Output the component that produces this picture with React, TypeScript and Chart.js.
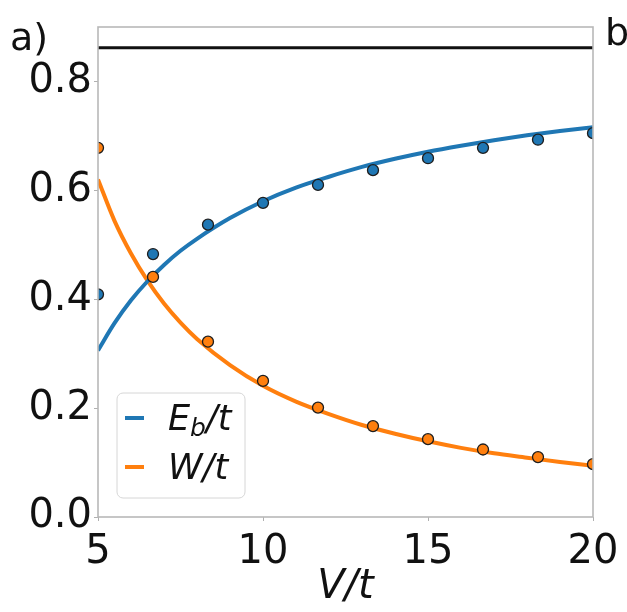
import React, { useEffect, useRef } from "react";
import { Chart, registerables } from "chart.js";

Chart.register(...registerables);

// ---- data ----
const POINT_X = [5, 6.667, 8.333, 10, 11.667, 13.333, 15, 16.667, 18.333, 20];
const EB_POINTS = [0.409, 0.483, 0.537, 0.577, 0.61, 0.637, 0.659, 0.678, 0.693, 0.705];
const W_POINTS = [0.678, 0.441, 0.322, 0.25, 0.201, 0.167, 0.143, 0.124, 0.11, 0.097];

const CURVE_X = [5, 5.5, 6, 6.5, 7, 7.5, 8, 9, 10, 11, 12, 13, 14, 15, 16, 17, 18, 19, 20];
const EB_CURVE = [0.306, 0.356, 0.398, 0.433, 0.463, 0.489, 0.511, 0.549, 0.58, 0.605, 0.625, 0.643, 0.658, 0.671, 0.682, 0.692, 0.701, 0.709, 0.716];
const W_CURVE = [0.62, 0.544, 0.484, 0.434, 0.392, 0.357, 0.327, 0.279, 0.241, 0.212, 0.189, 0.169, 0.153, 0.139, 0.127, 0.117, 0.109, 0.101, 0.094];

const REF_X = [5, 20];
const REF_LEVEL = [0.862, 0.862];

const X_TICKS = [5, 10, 15, 20];
const Y_TICKS = [0, 0.2, 0.4, 0.6, 0.8];
const X_RANGE = [5, 20];
const Y_RANGE = [0, 0.9];

const LEGEND_LABELS = [
  { main: "E", sub: "b", rest: "/t" },
  { main: "W", sub: "", rest: "/t" },
];
const PANEL_LABELS = ["a)", "b"];

const BLUE = "#1f77b4";
const ORANGE = "#ff7f0e";

const toXY = (xs: number[], ys: number[]) => xs.map((x, i) => ({ x, y: ys[i] }));

const annotPlugin = {
  id: "annot",
  afterDatasetsDraw(chart: any) {
    const ctx = chart.ctx;
    const a = chart.chartArea;
    ctx.save();
    // frame (spines)
    ctx.strokeStyle = "#b8b8b8";
    ctx.lineWidth = 1.6;
    ctx.strokeRect(a.left, a.top, a.right - a.left, a.bottom - a.top);

    // legend box
    const bx = a.left + 19;
    const by = a.bottom - 124;
    const bw = 128;
    const bh = 105;
    ctx.beginPath();
    (ctx as any).roundRect(bx, by, bw, bh, 6);
    ctx.fillStyle = "rgba(255,255,255,0.8)";
    ctx.fill();
    ctx.strokeStyle = "#d6d6d6";
    ctx.lineWidth = 1;
    ctx.stroke();

    const colors = [BLUE, ORANGE];
    LEGEND_LABELS.forEach((lab, i) => {
      const cy = by + 25 + i * 49;
      ctx.strokeStyle = colors[i];
      ctx.lineWidth = 4;
      ctx.beginPath();
      ctx.moveTo(bx + 8, cy);
      ctx.lineTo(bx + 27, cy);
      ctx.stroke();
      ctx.fillStyle = "#111";
      ctx.textBaseline = "alphabetic";
      ctx.textAlign = "left";
      let tx = bx + 51;
      const base = cy + 12;
      ctx.font = 'italic 35px "DejaVu Sans"';
      ctx.fillText(lab.main, tx, base);
      tx += ctx.measureText(lab.main).width;
      if (lab.sub) {
        ctx.font = 'italic 25px "DejaVu Sans"';
        ctx.fillText(lab.sub, tx, base + 6);
        tx += ctx.measureText(lab.sub).width;
      }
      ctx.font = 'italic 35px "DejaVu Sans"';
      ctx.fillText(lab.rest, tx, base);
    });

    // panel labels
    ctx.fillStyle = "#111";
    ctx.font = '38px "DejaVu Sans"';
    ctx.textBaseline = "alphabetic";
    ctx.textAlign = "left";
    ctx.fillText(PANEL_LABELS[0], 10, 50);
    ctx.fillText(PANEL_LABELS[1], 605, 45);
    ctx.restore();
  },
};

export default function App() {
  const ref = useRef<HTMLCanvasElement | null>(null);
  useEffect(() => {
    if (!ref.current) return;
    const chart = new Chart(ref.current, {
      type: "scatter",
      data: {
        datasets: [
          {
            label: "Eb points",
            data: toXY(POINT_X, EB_POINTS),
            backgroundColor: BLUE,
            borderColor: "#1e1e1e",
            borderWidth: 1.3,
            pointRadius: 5.5,
            showLine: false,
            clip: 0,
            order: 0,
          },
          {
            label: "W points",
            data: toXY(POINT_X, W_POINTS),
            backgroundColor: ORANGE,
            borderColor: "#1e1e1e",
            borderWidth: 1.3,
            pointRadius: 5.5,
            showLine: false,
            clip: 0,
            order: 0,
          },
          {
            label: "Eb/t",
            data: toXY(CURVE_X, EB_CURVE),
            borderColor: BLUE,
            borderWidth: 4,
            pointRadius: 0,
            showLine: true,
            cubicInterpolationMode: "monotone",
            clip: 0,
            order: 1,
          },
          {
            label: "W/t",
            data: toXY(CURVE_X, W_CURVE),
            borderColor: ORANGE,
            borderWidth: 4,
            pointRadius: 0,
            showLine: true,
            cubicInterpolationMode: "monotone",
            clip: 0,
            order: 1,
          },
          {
            label: "ref",
            data: toXY(REF_X, REF_LEVEL),
            borderColor: "#111",
            borderWidth: 3,
            pointRadius: 0,
            showLine: true,
            clip: 0,
            order: 1,
          },
        ],
      } as any,
      options: {
        animation: false,
        responsive: false,
        layout: { padding: { left: 0, top: 27, right: 34, bottom: 0 } },
        plugins: { legend: { display: false }, tooltip: { enabled: false } },
        scales: {
          x: {
            type: "linear",
            min: X_RANGE[0],
            max: X_RANGE[1],
            afterBuildTicks: (s: any) => {
              s.ticks = X_TICKS.map((v) => ({ value: v }));
            },
            afterFit: (s: any) => {
              s.height = 95;
            },
            border: { display: false },
            grid: { drawOnChartArea: false, drawTicks: true, tickLength: 4, color: "#b0b0b0", lineWidth: 1 },
            ticks: {
              padding: 8,
              color: "#111",
              font: { family: "DejaVu Sans", size: 40 },
              callback: (v: any) => String(v),
              maxRotation: 0,
            },
            title: {
              display: true,
              text: "V/t",
              color: "#111",
              font: { family: "DejaVu Sans", size: 40, style: "italic" },
              padding: { top: 0, bottom: 0 },
            },
          },
          y: {
            type: "linear",
            min: Y_RANGE[0],
            max: Y_RANGE[1],
            afterBuildTicks: (s: any) => {
              s.ticks = Y_TICKS.map((v) => ({ value: v }));
            },
            afterFit: (s: any) => {
              s.width = 98;
            },
            border: { display: false },
            grid: { drawOnChartArea: false, drawTicks: true, tickLength: 4, color: "#b0b0b0", lineWidth: 1 },
            ticks: {
              padding: 2,
              color: "#111",
              font: { family: "DejaVu Sans", size: 40 },
              callback: (v: any) => Number(v).toFixed(1),
            },
          },
        },
      },
      plugins: [annotPlugin],
    });
    return () => chart.destroy();
  }, []);
  return (
    <div style={{ position: "absolute", left: 0, top: 0, width: 627, height: 612, background: "#fff" }}>
      <canvas ref={ref} width={627} height={612} style={{ display: "block" }} />
    </div>
  );
}
